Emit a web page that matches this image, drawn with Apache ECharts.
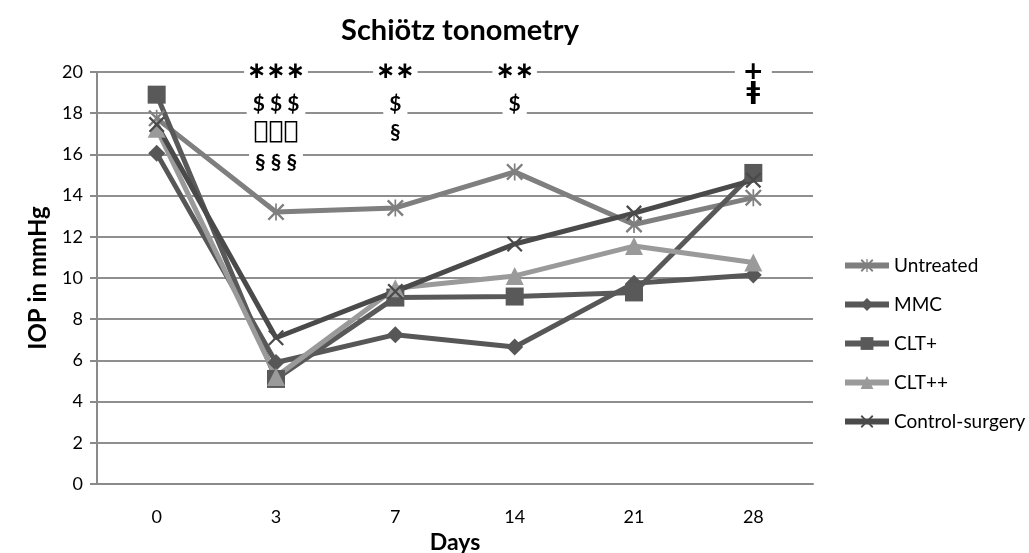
<!DOCTYPE html>
<html>
<head>
<meta charset="utf-8">
<script src="https://cdn.jsdelivr.net/npm/echarts@6/dist/echarts.min.js"></script>
<style>
  html, body { margin: 0; padding: 0; background: #fff; }
  #chart { width: 1029px; height: 553px; }
</style>
</head>
<body>
<div id="chart"></div>
<script>
// Schiötz tonometry — IOP (mmHg) over days, five groups, grayscale Excel look.

const days = ['0', '3', '7', '14', '21', '28']
const untreated = [17.75, 13.2, 13.4, 15.15, 12.6, 13.9]
const mmc = [16.05, 5.9, 7.25, 6.65, 9.75, 10.15]
const cltPlus = [18.9, 5.1, 9.05, 9.1, 9.3, 15.1]
const cltPlusPlus = [17.25, 5.2, 9.5, 10.1, 11.55, 10.75]
const controlSurgery = [17.45, 7.1, 9.35, 11.65, 13.15, 14.75]

const seriesNames = ['Untreated', 'MMC', 'CLT+', 'CLT++', 'Control-surgery']
const yTicks = [0, 2, 4, 6, 8, 10, 12, 14, 16, 18, 20]

// significance marks: [day, value-row, text]
const annotDays = ['3', '3', '3', '3', '7', '7', '7', '14', '14', '28', '28']
const annotRows = [20, 18.45, 17.1, 15.6, 20, 18.45, 17.1, 20, 18.45, 20, 19.0]
const annotText = ['∗∗∗', '$ $ $', '▯▯▯', '§ § §', '∗∗', '$', '§', '∗∗', '$', '+', 'ǂ']

const FONT = 'Lato, "Open Sans", sans-serif'

// Excel style asterisk / x markers as filled paths
const X_PATH = 'path://M2,0 L10,8 L18,0 L20,2 L12,10 L20,18 L18,20 L10,12 L2,20 L0,18 L8,10 L0,2 Z'
const STAR_PATH = X_PATH.replace(' Z', ' Z M9,0 L11,0 L11,20 L9,20 Z')

function lineSeries(name, data, color, symbol, size) {
  return {
    name,
    type: 'line',
    data,
    symbol,
    symbolSize: size,
    showSymbol: true,
    lineStyle: { color, width: 5 },
    itemStyle: { color },
    z: 3,
  }
}

// glyph-dependent look of the marks (asterisks, boxes etc. need other fonts)
function markLabel(t) {
  if (t.startsWith('∗')) return { fontFamily: 'DejaVu Sans', fontSize: 23, padding: [0, 3] }
  if (t.startsWith('▯')) {
    // the "missing glyph" boxes of the original, drawn as outlined rich-text boxes
    return {
      formatter: t.split('').map(() => '{bx| }').join('{gp| }'),
      padding: [2, 6],
      rich: {
        bx: { width: 11, height: 20, borderColor: '#000', borderWidth: 1.5, fontSize: 4 },
        gp: { width: 4, fontSize: 4 },
      },
    }
  }
  if (t === '+' || t === 'ǂ') return { fontFamily: 'DejaVu Sans', fontSize: 25, padding: [0, 8] }
  return {}
}

const annotData = annotText.map((t, i) => ({
  coord: [annotDays[i], annotRows[i]],
  value: t,
  label: markLabel(t),
}))

const chart = echarts.init(document.getElementById('chart'), null, { renderer: 'canvas' })

chart.setOption({
  backgroundColor: '#fff',
  animation: false,
  textStyle: { fontFamily: FONT },
  title: {
    text: 'Schiötz tonometry',
    left: 455,
    textAlign: 'center',
    top: 11,
    textStyle: { fontFamily: FONT, fontWeight: 'bold', fontSize: 29, color: '#000' },
  },
  legend: {
    data: seriesNames,
    orient: 'vertical',
    left: 837,
    top: 251,
    itemWidth: 44,
    itemHeight: 16,
    itemGap: 20,
    lineStyle: { width: 6 },
    textStyle: { fontFamily: FONT, fontSize: 19, color: '#000' },
  },
  grid: { left: 97, right: 216, top: 72, bottom: 69, containLabel: false, outerBoundsMode: 'none' },
  xAxis: {
    type: 'category',
    data: days,
    boundaryGap: true,
    name: 'Days',
    nameLocation: 'middle',
    nameGap: 44,
    nameTextStyle: { fontFamily: FONT, fontWeight: 'bold', fontSize: 23, color: '#000' },
    axisLine: { lineStyle: { color: '#8a8a8a', width: 2 } },
    axisTick: { alignWithLabel: true, length: 7, lineStyle: { color: '#8a8a8a', width: 2 } },
    axisLabel: { fontSize: 18, color: '#000', margin: 24 },
    splitLine: { show: false },
  },
  yAxis: {
    type: 'value',
    min: yTicks[0],
    max: yTicks[yTicks.length - 1],
    interval: 2,
    name: 'IOP in mmHg',
    nameLocation: 'middle',
    nameGap: 47,
    nameTextStyle: { fontFamily: FONT, fontWeight: 'bold', fontSize: 24, color: '#000' },
    axisLine: { show: true, lineStyle: { color: '#8a8a8a', width: 2 } },
    axisTick: { show: true, length: 7, lineStyle: { color: '#8a8a8a', width: 2 } },
    axisLabel: { fontSize: 18, color: '#000', margin: 14 },
    splitLine: { lineStyle: { color: '#8f8f8f', width: 2 } },
  },
  series: [
    lineSeries('Untreated', untreated, '#7f7f7f', STAR_PATH, 17),
    lineSeries('MMC', mmc, '#575757', 'diamond', 17),
    lineSeries('CLT+', cltPlus, '#595959', 'rect', 18),
    lineSeries('CLT++', cltPlusPlus, '#9a9a9a', 'triangle', 18),
    lineSeries('Control-surgery', controlSurgery, '#4a4a4a', X_PATH, 16),
    {
      // holder for the significance marks
      name: 'marks',
      type: 'line',
      data: [],
      silent: true,
      markPoint: {
        symbol: 'rect',
        symbolSize: 1,
        itemStyle: { color: 'rgba(0,0,0,0)' },
        label: {
          show: true,
          position: 'inside',
          formatter: (p) => p.value,
          fontFamily: FONT,
          fontWeight: 'bold',
          fontSize: 21,
          color: '#000',
          backgroundColor: '#fff',
          padding: [2, 6],
        },
        data: annotData,
        z: 10,
      },
    },
  ],
})
</script>
</body>
</html>
